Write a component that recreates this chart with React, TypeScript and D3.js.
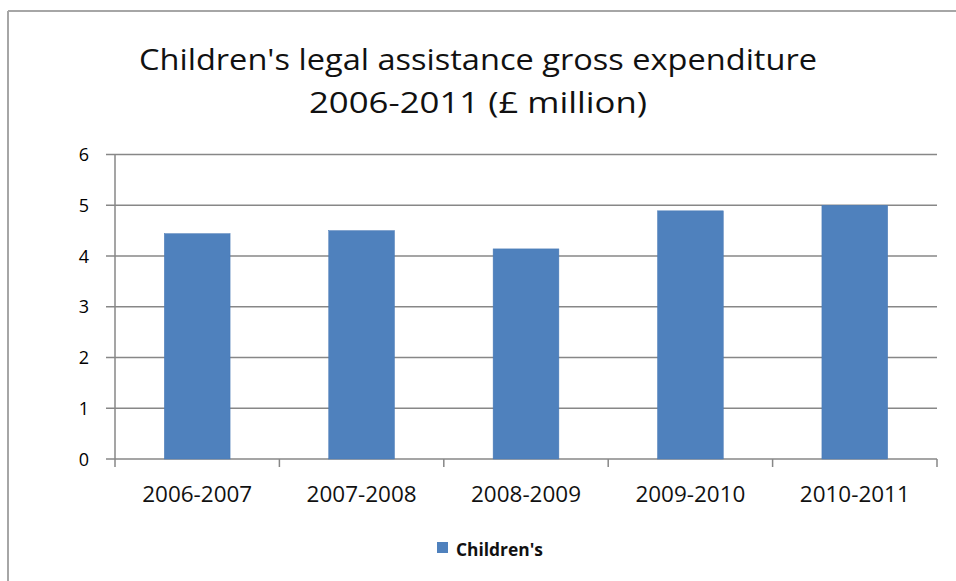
import React from "react";
import * as d3 from "d3";

const categories = ["2006-2007", "2007-2008", "2008-2009", "2009-2010", "2010-2011"];
const values = [4.44, 4.5, 4.14, 4.89, 5.0];
const yTicks = [0, 1, 2, 3, 4, 5, 6];
const seriesName = "Children's";
const titleLines = ["Children's legal assistance  gross expenditure", "2006-2011 (£ million)"];
const titleWidths = [678, 338];

export default function App() {
  const W = 956, H = 581;
  const left = 115, right = 937, top = 154.5, bottom = 459;
  const x = d3.scaleBand<string>().domain(categories).range([left, right]).paddingInner(0.6).paddingOuter(0.3);
  const y = d3.scaleLinear().domain([0, 6]).range([bottom, top]);
  const band = (right - left) / categories.length;
  const font = "'Open Sans', 'Liberation Sans', sans-serif";
  return (
    <svg width={W} height={H} style={{ position: "absolute", left: 0, top: 0, background: "#fff" }}>
      <rect x={0} y={0} width={W} height={H} fill="#fff" />
      <line x1={8} y1={11} x2={W} y2={11} stroke="#a6a6a6" strokeWidth={2} />
      <line x1={8} y1={11} x2={8} y2={H} stroke="#a6a6a6" strokeWidth={2} />
      {titleLines.map((t, i) => (
        <text key={i} x={478} y={70 + i * 43} textAnchor="middle" fontFamily={font} fontSize={29} fill="#111"
          textLength={titleWidths[i]} lengthAdjust="spacingAndGlyphs">
          {t}
        </text>
      ))}
      {yTicks.map((t) => (
        <g key={t}>
          <line x1={left - 9} x2={right} y1={y(t)} y2={y(t)} stroke="#878787" strokeWidth={1.5} />
          <text x={89} y={y(t) + 6.5} textAnchor="end" fontFamily={font} fontSize={18} fill="#000">
            {t}
          </text>
        </g>
      ))}
      <line x1={left} x2={left} y1={top} y2={bottom + 8} stroke="#878787" strokeWidth={1.5} />
      {categories.map((c, i) => (
        <line key={c} x1={left + band * (i + 1)} x2={left + band * (i + 1)} y1={bottom} y2={bottom + 8} stroke="#878787" strokeWidth={1.5} />
      ))}
      {categories.map((c, i) => (
        <rect key={c} x={x(c)} y={y(values[i])} width={x.bandwidth()} height={bottom - y(values[i])} fill="#4F81BD" stroke="#4a7ab5" strokeWidth={0.5} />
      ))}
      {categories.map((c) => (
        <text key={c} x={(x(c) as number) + x.bandwidth() / 2} y={502} textAnchor="middle" fontFamily={font} fontSize={21} fill="#111"
          textLength={110} lengthAdjust="spacingAndGlyphs">
          {c}
        </text>
      ))}
      <rect x={437} y={542} width={11} height={11} fill="#4F81BD" />
      <text x={456} y={556} fontFamily={font} fontSize={17} fontWeight="bold" fill="#111"
        textLength={87} lengthAdjust="spacingAndGlyphs">
        {seriesName}
      </text>
    </svg>
  );
}
